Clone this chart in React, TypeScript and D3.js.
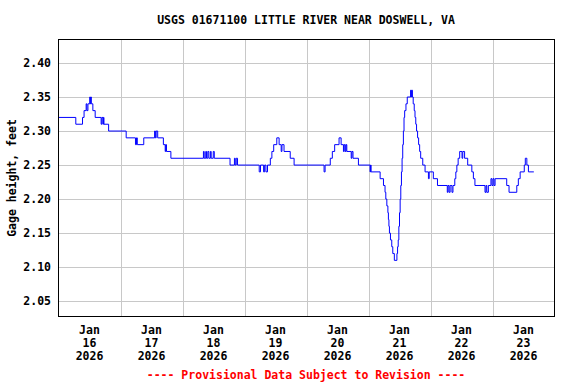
import React, { useEffect, useRef } from "react";
import * as d3 from "d3";

const title = "USGS 01671100 LITTLE RIVER NEAR DOSWELL, VA";
const yLabel = "Gage height, feet";
const footer = "---- Provisional Data Subject to Revision ----";

const yTicks = [2.05, 2.1, 2.15, 2.2, 2.25, 2.3, 2.35, 2.4];
const dayNums = ["16", "17", "18", "19", "20", "21", "22", "23"];
const monthLabel = "Jan";
const yearLabel = "2026";

// hours after Jan 16 00:00 at which the reading changes, and the new reading (ft)
const hours = [
  0, 6.7, 9.3, 9.9, 10.7, 11.0, 11.4, 12.1, 12.3, 12.5, 12.7, 13.3, 14.2,
  16.5, 16.8, 17.2, 17.4, 17.6, 19.4, 26.2, 29.8, 30.2, 30.5, 33.0, 37.2,
  37.5, 37.8, 38.4, 40.6, 41.3, 41.5, 41.8, 43.5, 56.1, 56.4, 57.0, 57.3,
  57.8, 58.2, 58.8, 59.1, 59.9, 60.3, 66.4, 68.1, 68.4, 68.8, 69.3, 77.7,
  78.2, 79.4, 79.8, 80.3, 80.9, 82.0, 82.6, 83.3, 84.5, 85.4, 86.2, 86.5,
  87.3, 89.7, 91.2, 102.8, 103.2, 105.2, 106.0, 106.9, 108.6, 109.4, 110.3,
  110.6, 111.0, 111.3, 111.6, 113.3, 113.6, 114.0, 116.1, 120.6, 120.8,
  121.0, 124.5, 125.8, 126.4, 126.7, 127.1, 127.5, 127.7, 127.9, 128.1,
  128.5, 129.0, 129.4, 130.0, 131.0, 131.25, 131.5, 131.75, 132.0, 132.25,
  132.5, 132.75, 133.0, 133.25, 133.5, 133.75, 134.0, 134.5, 135.0, 136.3,
  136.5, 136.7, 137.0, 137.3, 137.7, 138.0, 138.3, 138.6, 139.0, 139.4,
  139.8, 140.2, 141.0, 141.9, 143.2, 143.5, 145.1, 146.7, 150.5, 150.8,
  151.2, 151.6, 152.3, 152.7, 153.4, 153.8, 154.2, 154.7, 155.3, 156.2,
  156.5, 157.2, 158.4, 160.0, 160.6, 161.2, 165.1, 165.5, 165.8, 166.4,
  167.4, 167.8, 168.2, 168.6, 169.0, 173.5, 174.4, 177.4, 178.0, 178.7,
  180.3, 180.7, 181.3, 181.9, 184.0,
];
const gage = [
  2.32, 2.31, 2.32, 2.33, 2.34, 2.33, 2.34, 2.35, 2.34, 2.35, 2.34, 2.33, 2.32,
  2.31, 2.32, 2.31, 2.32, 2.31, 2.3, 2.29, 2.28, 2.29, 2.28, 2.29, 2.3,
  2.29, 2.3, 2.29, 2.28, 2.27, 2.28, 2.27, 2.26, 2.27, 2.26, 2.27, 2.26,
  2.27, 2.26, 2.27, 2.26, 2.27, 2.26, 2.25, 2.26, 2.25, 2.26, 2.25, 2.24,
  2.25, 2.24, 2.25, 2.24, 2.25, 2.26, 2.27, 2.28, 2.29, 2.28, 2.27, 2.28,
  2.27, 2.26, 2.25, 2.24, 2.25, 2.26, 2.27, 2.28, 2.29, 2.28, 2.27,
  2.28, 2.27, 2.28, 2.27, 2.26, 2.27, 2.26, 2.25, 2.24, 2.25,
  2.24, 2.23, 2.22, 2.21, 2.2, 2.19, 2.18, 2.17, 2.16, 2.15,
  2.14, 2.13, 2.12, 2.11, 2.12, 2.13, 2.14, 2.16, 2.18, 2.2,
  2.22, 2.24, 2.26, 2.28, 2.3, 2.32, 2.33, 2.34, 2.35, 2.36,
  2.35, 2.36, 2.35, 2.34, 2.33, 2.32, 2.31, 2.3, 2.29, 2.28,
  2.27, 2.26, 2.25, 2.24, 2.23, 2.24, 2.23, 2.22, 2.21, 2.22,
  2.21, 2.22, 2.21, 2.22, 2.23, 2.24, 2.25, 2.26, 2.27, 2.26,
  2.27, 2.26, 2.25, 2.24, 2.23, 2.22, 2.21, 2.22, 2.21, 2.22,
  2.23, 2.22, 2.23, 2.22, 2.23, 2.22, 2.21, 2.22, 2.23, 2.24,
  2.25, 2.26, 2.25, 2.24, 2.24,
];

const W = 576;
const H = 384;
const FONT = "'DejaVu Sans Mono', monospace";

export default function App() {
  const ref = useRef<SVGSVGElement>(null);

  useEffect(() => {
    const svg = d3.select(ref.current);
    svg.selectAll("*").remove();

    const left = 58.5, right = 554.5, top = 39.5, bottom = 316.5;
    const start = new Date(2026, 0, 16);
    const end = new Date(2026, 0, 24);

    const x = d3.scaleTime().domain([start, end]).range([left, right]);
    const y = d3.scaleLinear().domain([2.0275, 2.4345]).range([bottom, top]);

    svg.append("rect").attr("width", W).attr("height", H).attr("fill", "#fff");

    svg.append("text")
      .attr("x", 306).attr("y", 24)
      .attr("text-anchor", "middle")
      .style("font", `bold 11.5px ${FONT}`)
      .text(title);

    const grid = svg.append("g").attr("stroke", "#c8c8c8").attr("stroke-width", 1).attr("shape-rendering", "crispEdges");
    grid.selectAll("line.h")
      .data(yTicks)
      .enter()
      .append("line")
      .attr("x1", left).attr("x2", right)
      .attr("y1", (d) => Math.round(y(d)) + 0.5)
      .attr("y2", (d) => Math.round(y(d)) + 0.5);

    const days = d3.timeDay.range(d3.timeDay.offset(start, 1), end);
    grid.selectAll("line.v")
      .data(days)
      .enter()
      .append("line")
      .attr("y1", top).attr("y2", bottom)
      .attr("x1", (d) => Math.round(x(d)) + 0.5)
      .attr("x2", (d) => Math.round(x(d)) + 0.5);

    const pts = hours.map((h, i) => [new Date(start.getTime() + h * 3600000), gage[i]] as [Date, number]);
    const line = d3.line<[Date, number]>()
      .x((d) => x(d[0]))
      .y((d) => y(d[1]))
      .curve(d3.curveStepAfter);

    svg.append("path")
      .datum(pts)
      .attr("d", line)
      .attr("fill", "none")
      .attr("stroke", "#0000ff")
      .attr("stroke-width", 1);

    svg.append("rect")
      .attr("x", left).attr("y", top)
      .attr("width", right - left).attr("height", bottom - top)
      .attr("fill", "none").attr("stroke", "#000").attr("stroke-width", 1);

    svg.selectAll("text.ytick")
      .data(yTicks)
      .enter()
      .append("text")
      .attr("x", 51)
      .attr("y", (d) => y(d) + 4)
      .attr("text-anchor", "end")
      .style("font", `bold 11.5px ${FONT}`)
      .text((d) => d.toFixed(2));

    const noons = d3.timeDay.range(start, end).map((d) => d3.timeHour.offset(d, 12));
    const xl = svg.selectAll("g.xlab")
      .data(noons)
      .enter()
      .append("g")
      .attr("transform", (d) => `translate(${x(d)},0)`)
      .style("font", `bold 11.5px ${FONT}`)
      .attr("text-anchor", "middle");
    xl.append("text").attr("y", 334).text(monthLabel);
    xl.append("text").attr("y", 347).text((d, i) => dayNums[i]);
    xl.append("text").attr("y", 360).text(yearLabel);

    svg.append("text")
      .attr("transform", `translate(15.5,${(top + bottom) / 2}) rotate(-90)`)
      .attr("text-anchor", "middle")
      .style("font", `bold 11.5px ${FONT}`)
      .text(yLabel);

    svg.append("text")
      .attr("x", 306).attr("y", 379)
      .attr("text-anchor", "middle")
      .attr("fill", "#ff0000")
      .style("font", `bold 11.5px ${FONT}`)
      .text(footer);
  }, []);

  return (
    <svg
      ref={ref}
      width={W}
      height={H}
      style={{ position: "fixed", left: 0, top: 0, display: "block" }}
    />
  );
}
